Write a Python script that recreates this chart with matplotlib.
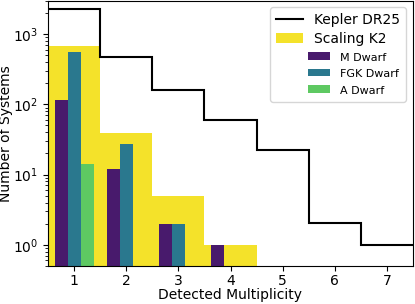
import matplotlib
matplotlib.use('Agg')
import matplotlib.pyplot as plt
import numpy as np
from matplotlib.patches import Rectangle, Patch
from matplotlib.lines import Line2D
from matplotlib.legend_handler import HandlerBase

# ---- data ----
kepler_mult = [1, 2, 3, 4, 5, 6, 7]
kepler_dr25 = [2270, 471, 160, 60, 22.4, 2.04, 1.0]

k2_mult = [1, 2, 3, 4]
scaling_k2 = [675, 38.6, 5, 1]

m_mult = [1, 2, 3, 4]
m_dwarf = [114, 12, 2, 1]
fgk_mult = [1, 2, 3]
fgk_dwarf = [550, 27, 2]
a_mult = [1]
a_dwarf = [14]

xticks = [1, 2, 3, 4, 5, 6, 7]

c_yellow = '#f4e22a'
c_m = '#481a6c'
c_fgk = '#2a788e'
c_a = '#5ec962'

fig = plt.figure(figsize=(4.15, 3.04), dpi=100)
ax = fig.add_axes([48/415, 38/304, (413-48)/415, 265.5/304])

ax.bar(k2_mult, scaling_k2, width=1.0, color=c_yellow, zorder=1)
ax.bar(np.array(m_mult) - 0.25, m_dwarf, width=0.25, color=c_m, zorder=2)
ax.bar(np.array(fgk_mult), fgk_dwarf, width=0.25, color=c_fgk, zorder=2)
ax.bar(np.array(a_mult) + 0.25, a_dwarf, width=0.25, color=c_a, zorder=2)

edges = np.arange(0.5, len(kepler_dr25) + 1, 1.0)
ax.stairs(kepler_dr25, edges, baseline=None, color='black', lw=1.5, zorder=3)

ax.set_yscale('log')
ax.set_ylim(0.5, 3000)
ax.set_xlim(0.5, 7.5)
ax.set_xticks(xticks)
ax.set_xlabel('Detected Multiplicity', fontsize=10)
ax.set_ylabel('Number of Systems', fontsize=10)
ax.xaxis.set_label_coords(0.4986, -0.082)
ax.yaxis.set_label_coords(-0.095, 0.5)
ax.tick_params(labelsize=10)
ax.tick_params(axis='x', pad=2)


class ShiftedPatchHandler(HandlerBase):
    def legend_artist(self, legend, orig_handle, fontsize, handlebox):
        handlebox.width = 38
        x0, y0 = handlebox.xdescent, handlebox.ydescent
        rect = Rectangle((23 - x0, 0.7 - y0), 16, 5.6,
                         facecolor=orig_handle.get_facecolor(), edgecolor='none',
                         transform=handlebox.get_transform())
        handlebox.add_artist(rect)
        return rect


h_kep = Line2D([], [], color='black', lw=1.5)
h_k2 = Patch(facecolor=c_yellow, edgecolor='none')
h_m = Patch(facecolor=c_m, edgecolor='none')
h_fgk = Patch(facecolor=c_fgk, edgecolor='none')
h_a = Patch(facecolor=c_a, edgecolor='none')
shp = ShiftedPatchHandler()
leg = ax.legend([h_kep, h_k2, h_m, h_fgk, h_a],
                ['Kepler DR25', 'Scaling K2', 'M Dwarf', 'FGK Dwarf', 'A Dwarf'],
                loc='upper right', fontsize=10, labelspacing=0.36,
                handler_map={h_m: shp, h_fgk: shp, h_a: shp})
for t in leg.get_texts()[2:]:
    t.set_fontsize(8)

fig.savefig('out.png', dpi=100)
